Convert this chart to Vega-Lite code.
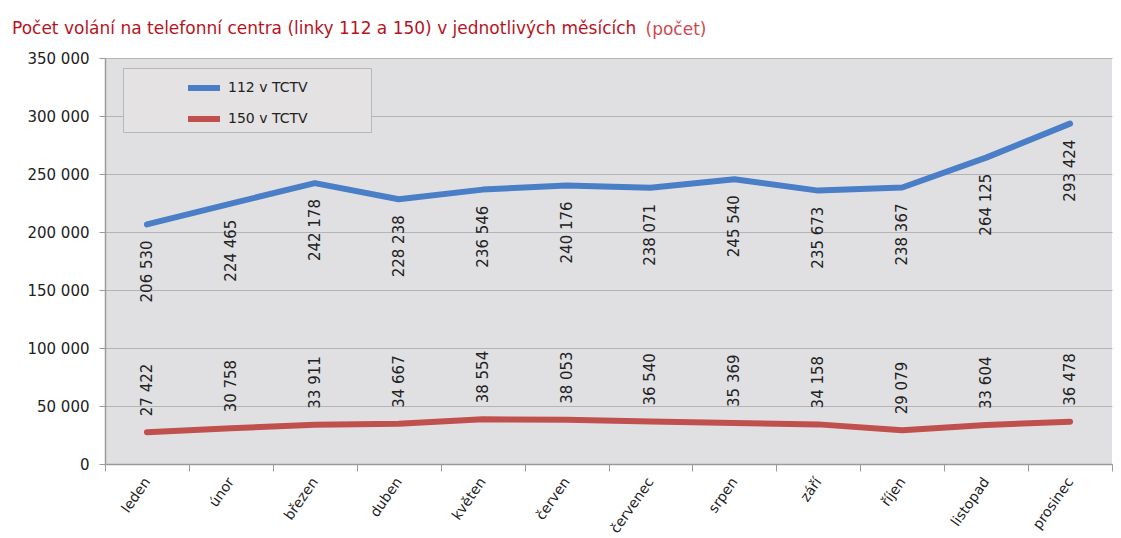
{
  "$schema": "https://vega.github.io/schema/vega-lite/v6.json",
  "width": 1007,
  "height": 406,
  "autosize": {"type": "none"},
  "padding": {"left": 105, "top": 58, "right": 9, "bottom": 74},
  "background": "white",
  "config": {
    "locale": {"number": {"decimal": ",", "thousands": "\u00a0", "grouping": [3], "currency": ["", ""]}},
    "font": "DejaVu Sans",
    "view": {"fill": "#e0e0e2", "stroke": null}
  },
  "title": {
    "text": "Počet volání na telefonní centra (linky 112 a 150) v jednotlivých měsících",
    "anchor": "start",
    "frame": "group",
    "dx": -93,
    "offset": -18,
    "fontSize": 17,
    "fontWeight": "normal",
    "color": "#b5141e",
    "font": "DejaVu Sans"
  },
  "data": {
    "values": [
      {"mesic": "leden", "linka": "112 v TCTV", "pocet": 206530},
      {"mesic": "únor", "linka": "112 v TCTV", "pocet": 224465},
      {"mesic": "březen", "linka": "112 v TCTV", "pocet": 242178},
      {"mesic": "duben", "linka": "112 v TCTV", "pocet": 228238},
      {"mesic": "květen", "linka": "112 v TCTV", "pocet": 236546},
      {"mesic": "červen", "linka": "112 v TCTV", "pocet": 240176},
      {"mesic": "červenec", "linka": "112 v TCTV", "pocet": 238071},
      {"mesic": "srpen", "linka": "112 v TCTV", "pocet": 245540},
      {"mesic": "září", "linka": "112 v TCTV", "pocet": 235673},
      {"mesic": "říjen", "linka": "112 v TCTV", "pocet": 238367},
      {"mesic": "listopad", "linka": "112 v TCTV", "pocet": 264125},
      {"mesic": "prosinec", "linka": "112 v TCTV", "pocet": 293424},
      {"mesic": "leden", "linka": "150 v TCTV", "pocet": 27422},
      {"mesic": "únor", "linka": "150 v TCTV", "pocet": 30758},
      {"mesic": "březen", "linka": "150 v TCTV", "pocet": 33911},
      {"mesic": "duben", "linka": "150 v TCTV", "pocet": 34667},
      {"mesic": "květen", "linka": "150 v TCTV", "pocet": 38554},
      {"mesic": "červen", "linka": "150 v TCTV", "pocet": 38053},
      {"mesic": "červenec", "linka": "150 v TCTV", "pocet": 36540},
      {"mesic": "srpen", "linka": "150 v TCTV", "pocet": 35369},
      {"mesic": "září", "linka": "150 v TCTV", "pocet": 34158},
      {"mesic": "říjen", "linka": "150 v TCTV", "pocet": 29079},
      {"mesic": "listopad", "linka": "150 v TCTV", "pocet": 33604},
      {"mesic": "prosinec", "linka": "150 v TCTV", "pocet": 36478}
    ]
  },
  "encoding": {
    "x": {
      "field": "mesic",
      "type": "nominal",
      "sort": ["leden", "únor", "březen", "duben", "květen", "červen", "červenec", "srpen", "září", "říjen", "listopad", "prosinec"],
      "scale": {"paddingInner": 0, "paddingOuter": 0},
      "axis": {
        "title": null,
        "tickBand": "extent",
        "grid": false,
        "labelAngle": -55,
        "labelAlign": "right",
        "labelBaseline": "middle",
        "labelFontSize": 14,
        "labelColor": "#222222",
        "labelPadding": 8,
        "tickSize": 7,
        "tickColor": "#9a9a9a",
        "domainColor": "#9a9a9a",
        "domainWidth": 1.5
      }
    },
    "y": {
      "field": "pocet",
      "type": "quantitative",
      "scale": {"domain": [0, 350000], "nice": false},
      "axis": {
        "values": [0, 50000, 100000, 150000, 200000, 250000, 300000, 350000],
        "format": ",d",
        "labelFontSize": 15,
        "labelColor": "#222222",
        "labelPadding": 10,
        "tickSize": 6,
        "tickColor": "#9a9a9a",
        "domainColor": "#9a9a9a",
        "domainWidth": 1.5,
        "gridColor": "#b4b4b6",
        "gridWidth": 1.2,
        "title": "(počet)",
        "titleAngle": 0,
        "titleX": 540,
        "titleY": -24,
        "titleAlign": "left",
        "titleBaseline": "alphabetic",
        "titleFontSize": 17,
        "titleFontWeight": "normal",
        "titleColor": "#d0474f"
      }
    }
  },
  "layer": [
    {
      "mark": {"type": "line", "strokeWidth": 6, "strokeCap": "round", "strokeJoin": "round"},
      "encoding": {
        "color": {
          "field": "linka",
          "type": "nominal",
          "scale": {"domain": ["112 v TCTV", "150 v TCTV"], "range": ["#4a7ec6", "#c0504d"]},
          "legend": {
            "orient": "none",
            "legendX": 18,
            "legendY": 10,
            "title": null,
            "symbolType": "stroke",
            "symbolStrokeWidth": 6,
            "symbolSize": 1024,
            "rowPadding": -6,
            "padding": 1,
            "symbolOffset": 61,
            "labelOffset": 5,
            "labelFontSize": 14,
            "labelColor": "#222222",
            "labelExpr": "datum.label + '\u2800\u2800\u2800\u2800\u2800\u2800'",
            "fillColor": "#e4e2e2",
            "strokeColor": "#b8b6b6"
          }
        }
      }
    },
    {
      "transform": [{"filter": "datum.linka === '112 v TCTV'"}],
      "mark": {"type": "text", "angle": -90, "align": "right", "baseline": "middle", "dx": -16, "fontSize": 15, "color": "#222222"},
      "encoding": {"text": {"field": "pocet", "type": "quantitative", "format": ",d"}}
    },
    {
      "transform": [{"filter": "datum.linka === '150 v TCTV'"}],
      "mark": {"type": "text", "angle": -90, "align": "left", "baseline": "middle", "dx": 16, "fontSize": 15, "color": "#222222"},
      "encoding": {"text": {"field": "pocet", "type": "quantitative", "format": ",d"}}
    }
  ]
}
